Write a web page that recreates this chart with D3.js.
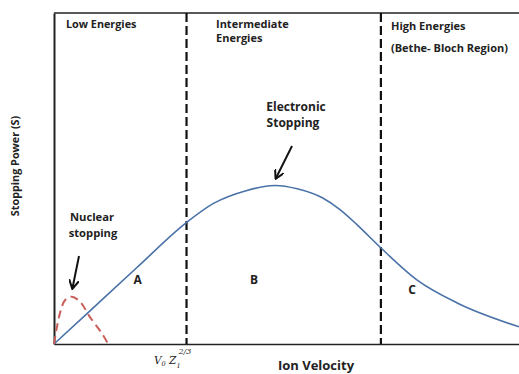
<!DOCTYPE html>
<html><head><meta charset="utf-8">
<script src="https://cdn.jsdelivr.net/npm/d3@7"></script>
<style>
body{margin:0;background:#fff;}
text{font-family:"Open Sans","DejaVu Sans",sans-serif;font-weight:bold;fill:#222;}
</style></head>
<body><svg id="c" width="519" height="374"></svg>
<script>
// Electronic stopping curve (blue)
const electronicX = [0, 7.1, 17.6, 28.4, 34.2, 41.5, 47.5, 52.3, 57.8, 61.5, 65.2, 70.1, 78.1, 86.7, 100];
const electronicY = [0, 9.2, 22.8, 36.6, 42.4, 46.4, 47.9, 46.9, 44.1, 40.6, 36.0, 29.3, 19.3, 12.4, 5.2];
// Nuclear stopping curve (red dashed)
const nuclearX = [0, 1.3, 2.4, 3.8, 5.6, 7.7, 10.3, 12.0];
const nuclearY = [0, 9.4, 13.3, 14.3, 12.8, 8.2, 3.2, -0.9];
// Region boundaries
const boundaries = [28.5, 70.3];
const regionLetters = ["A", "B", "C"];
const regionLetterX = [18, 43, 77];
const regionLetterY = [18, 18, 15];

const svg = d3.select("#c");
const x = d3.scaleLinear().domain([0, 100]).range([54, 519]);
const y = d3.scaleLinear().domain([0, 100]).range([344, 13]);

// axes
const xAxis = svg.append("g").attr("transform", `translate(0,${y(0)})`)
  .call(d3.axisBottom(x).tickValues([]).tickSizeOuter(0));
xAxis.select(".domain").attr("stroke", "#222").attr("stroke-width", 1.6);
const yAxis = svg.append("g").attr("transform", `translate(${x(0)},0)`)
  .call(d3.axisLeft(y).tickValues([]).tickSizeOuter(0));
yAxis.select(".domain").attr("stroke", "#222").attr("stroke-width", 2);
svg.append("line").attr("x1", x(0)).attr("x2", x(100)).attr("y1", y(100)).attr("y2", y(100))
  .attr("stroke", "#222").attr("stroke-width", 1.6);

// boundaries
svg.selectAll(".bnd").data(boundaries).enter().append("line")
  .attr("x1", d => x(d)).attr("x2", d => x(d))
  .attr("y1", y(100)).attr("y2", y(0))
  .attr("stroke", "#111").attr("stroke-width", 2.2).attr("stroke-dasharray", "9,4");

const line = d3.line().x(d => x(d[0])).y(d => y(d[1])).curve(d3.curveMonotoneX);
svg.append("path").datum(electronicX.map((v, i) => [v, electronicY[i]]))
  .attr("d", line).attr("fill", "none").attr("stroke", "#4a72a8").attr("stroke-width", 1.6);
const line2 = d3.line().x(d => x(d[0])).y(d => y(d[1])).curve(d3.curveCatmullRom.alpha(0.5));
svg.append("path").datum(nuclearX.map((v, i) => [v, nuclearY[i]]))
  .attr("d", line2).attr("fill", "none").attr("stroke", "#c9605c").attr("stroke-width", 2)
  .attr("stroke-dasharray", "8,5");

// region labels
const t = (tx, ty, s, size, anchor) => svg.append("text").attr("x", tx).attr("y", ty)
  .attr("font-size", size || 10).attr("text-anchor", anchor || "start").text(s);
t(66, 28, "Low Energies", 10.8);
t(216, 28, "Intermediate", 11);
t(216, 42, "Energies", 11);
t(391, 30, "High Energies", 11);
t(391, 52, "(Bethe- Bloch Region)", 11);
t(296, 111, "Electronic", 12, "middle");
t(293, 127, "Stopping", 12, "middle");
t(92, 221, "Nuclear", 11.2, "middle");
t(93, 237, "stopping", 11.2, "middle");

svg.selectAll(".reg").data(regionLetters).enter().append("text")
  .attr("x", (d, i) => x(regionLetterX[i])).attr("y", (d, i) => y(regionLetterY[i]))
  .attr("text-anchor", "middle").attr("font-size", 12).text(d => d);

// arrows
const defs = svg.append("defs");
defs.append("marker").attr("id", "ah").attr("viewBox", "0 0 10 10").attr("refX", 8).attr("refY", 5)
  .attr("markerWidth", 5).attr("markerHeight", 5).attr("orient", "auto")
  .append("path").attr("d", "M0,0 L9,5 L0,10").attr("fill", "none").attr("stroke", "#111").attr("stroke-width", 2);
svg.append("line").attr("x1", 292).attr("y1", 146).attr("x2", 276).attr("y2", 178)
  .attr("stroke", "#111").attr("stroke-width", 2).attr("marker-end", "url(#ah)");
svg.append("line").attr("x1", 79).attr("y1", 256).attr("x2", 72.5).attr("y2", 288)
  .attr("stroke", "#111").attr("stroke-width", 2).attr("marker-end", "url(#ah)");

// axis titles
t(316, 370, "Ion Velocity", 13, "middle");
svg.append("text").attr("transform", "translate(19,166) rotate(-90)")
  .attr("text-anchor", "middle").attr("font-size", 10.8).text("Stopping Power (S)");

// V0 Z1^(2/3)
const vz = svg.append("text").attr("x", 154).attr("y", 364)
  .style("font-family", "'DejaVu Serif','Liberation Serif',serif").style("font-style", "italic")
  .style("font-weight", "normal").attr("font-size", 10.5);
vz.append("tspan").text("V");
vz.append("tspan").attr("dy", 2).attr("font-size", 6.5).text("0");
vz.append("tspan").attr("dy", -2).text(" Z");
vz.append("tspan").attr("dy", 4).attr("font-size", 6.5).text("1");
vz.append("tspan").attr("dy", -14).attr("dx", -2).attr("font-size", 8).text("2/3");
</script></body></html>
